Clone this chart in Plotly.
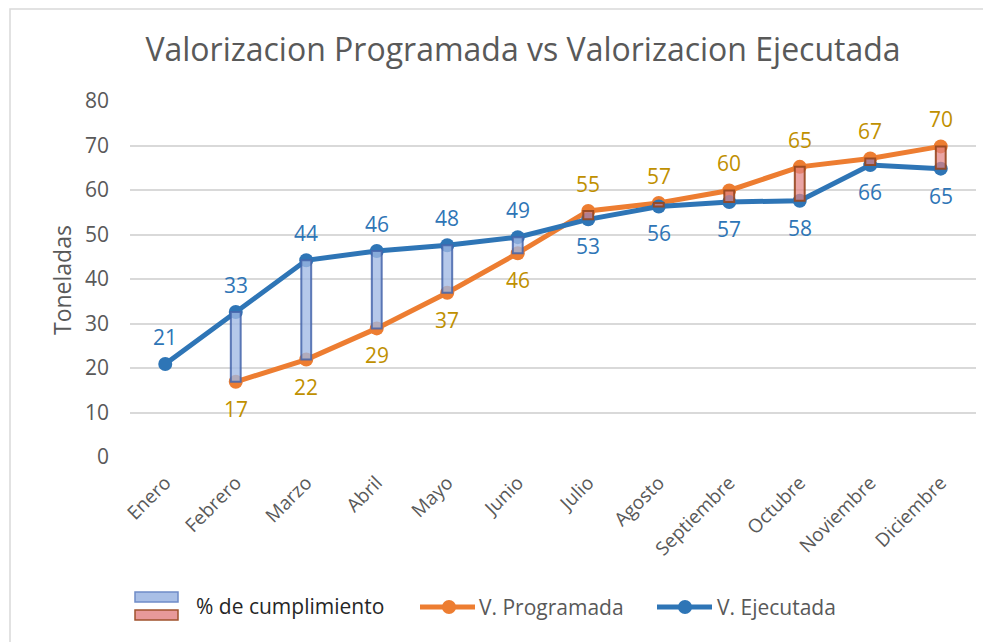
import plotly.graph_objects as go

months = ["Enero", "Febrero", "Marzo", "Abril", "Mayo", "Junio", "Julio",
          "Agosto", "Septiembre", "Octubre", "Noviembre", "Diciembre"]
programada = [None, 16.9, 21.9, 28.9, 36.9, 45.8, 55.3, 57.1, 59.9, 65.2, 67.1, 69.8]
ejecutada = [20.9, 32.6, 44.2, 46.3, 47.6, 49.4, 53.4, 56.3, 57.3, 57.6, 65.6, 64.8]
# label placement: True = above point
ejec_above = [True, True, True, True, True, True, False, False, False, False, False, False]
prog_above = [False, False, False, False, False, False, True, True, True, True, True, True]

OFF = 8  # page body margin
W, H = 991 - OFF, 642 - OFF
# plot area in page pixels
PL, PR, PT, PB = 130, 976, 101, 457
ML, MR, MT, MB = PL - OFF, W - (PR - OFF), PT - OFF, H - (PB - OFF)
PW, PH = PR - PL, PB - PT

def px(x):  # page x -> paper
    return (x - PL) / PW

def py(y):  # page y -> paper
    return (PB - y) / PH

BLUE = "#2e75b6"
ORANGE = "#ed7d31"
GOLD = "#bf9000"
GRAY = "#595959"
FONT = "Open Sans"

fig = go.Figure()

fig.add_trace(go.Scatter(
    x=months, y=programada, mode="lines+markers", name="V. Programada",
    line=dict(color=ORANGE, width=5), marker=dict(color=ORANGE, size=14),
    showlegend=False, connectgaps=False))
fig.add_trace(go.Scatter(
    x=months, y=ejecutada, mode="lines+markers", name="V. Ejecutada",
    line=dict(color=BLUE, width=5), marker=dict(color=BLUE, size=14),
    showlegend=False))

# up/down bars between the two series (drawn on overlay axes so they sit on top)
bx, bbase, bh, bfill, bline = [], [], [], [], []
for m, p, e in zip(months, programada, ejecutada):
    if p is None:
        continue
    bx.append(m)
    bbase.append(min(p, e))
    bh.append(abs(e - p))
    if e >= p:
        bfill.append("rgba(160,184,228,0.78)")
        bline.append("rgba(68,100,170,0.85)")
    else:
        bfill.append("rgba(226,130,130,0.72)")
        bline.append("rgba(150,70,30,0.9)")
fig.add_trace(go.Bar(
    x=bx, y=bh, base=bbase, width=0.14, xaxis="x2", yaxis="y2",
    marker=dict(color=bfill, line=dict(color=bline, width=2)),
    showlegend=False, hoverinfo="skip"))

# data labels
for m, v, up in zip(months, ejecutada, ejec_above):
    fig.add_annotation(x=m, y=v, text=f"{round(v)}", showarrow=False,
                       yshift=27 if up else -27,
                       font=dict(family=FONT, size=21, color=BLUE))
for m, v, up in zip(months, programada, prog_above):
    if v is None:
        continue
    fig.add_annotation(x=m, y=v, text=f"{round(v)}", showarrow=False,
                       yshift=27 if up else -27,
                       font=dict(family=FONT, size=21, color=GOLD))

# custom legend
shapes = []
shapes.append(dict(type="rect", xref="paper", yref="paper",
                   x0=px(135), x1=px(178), y0=py(602), y1=py(592),
                   fillcolor="#a9bfe6", line=dict(color="#6f8cc8", width=1.5)))
shapes.append(dict(type="rect", xref="paper", yref="paper",
                   x0=px(135), x1=px(178), y0=py(620), y1=py(610),
                   fillcolor="#e89999", line=dict(color="#a0522d", width=1.5)))
for x0, x1, xm, col in [(420, 475, 449, ORANGE), (657, 712, 685, BLUE)]:
    shapes.append(dict(type="line", xref="paper", yref="paper",
                       x0=px(x0), x1=px(x1), y0=py(607), y1=py(607),
                       line=dict(color=col, width=5)))
    shapes.append(dict(type="circle", xref="paper", yref="paper",
                       x0=px(xm - 7), x1=px(xm + 7), y0=py(614), y1=py(600),
                       fillcolor=col, line=dict(color=col, width=0)))
# chart border
shapes.append(dict(type="rect", xref="paper", yref="paper",
                   x0=px(10), x1=px(1010), y0=py(680), y1=py(9),
                   line=dict(color="#d9d9d9", width=1.5), fillcolor="rgba(0,0,0,0)"))

fig.add_annotation(xref="paper", yref="paper", x=px(194), y=py(606),
                   xanchor="left", yanchor="middle", showarrow=False,
                   text="% de cumplimiento",
                   font=dict(family=FONT, size=21, color="#262626"))
fig.add_annotation(xref="paper", yref="paper", x=px(477), y=py(607),
                   xanchor="left", yanchor="middle", showarrow=False,
                   text="V. Programada", font=dict(family=FONT, size=21, color=GRAY))
fig.add_annotation(xref="paper", yref="paper", x=px(715), y=py(607),
                   xanchor="left", yanchor="middle", showarrow=False,
                   text="V. Ejecutada", font=dict(family=FONT, size=21, color=GRAY))
fig.add_annotation(xref="paper", yref="paper", x=px(62), y=py(280),
                   xanchor="center", yanchor="middle", showarrow=False,
                   textangle=-90, text="Toneladas",
                   font=dict(family=FONT, size=23, color=GRAY))

fig.update_layout(
    width=W, height=H,
    margin=dict(l=ML, r=MR, t=MT, b=MB, pad=0),
    paper_bgcolor="white", plot_bgcolor="white",
    title=dict(text="Valorizacion Programada vs Valorizacion Ejecutada",
               x=(523 - OFF) / W, xanchor="center", y=1 - (50 - OFF) / H,
               yanchor="middle",
               font=dict(family=FONT, size=32, color=GRAY)),
    shapes=shapes,
    showlegend=False,
    xaxis=dict(type="category", categoryorder="array", categoryarray=months,
               range=[-0.5, 11.5], showgrid=False, zeroline=False, showline=False,
               ticks="", tickangle=-45, ticklabelstandoff=10,
               tickfont=dict(family=FONT, size=19, color=GRAY)),
    yaxis=dict(range=[0, 80], dtick=10, showgrid=True, gridcolor="#d9d9d9",
               gridwidth=1.5, zeroline=False, showline=False, ticks="",
               ticklabelstandoff=20,
               tickfont=dict(family=FONT, size=21, color=GRAY)),
    xaxis2=dict(type="category", categoryorder="array", categoryarray=months,
                range=[-0.5, 11.5], overlaying="x", visible=False),
    yaxis2=dict(range=[0, 80], overlaying="y", visible=False),
)

fig.write_html("out.html")
